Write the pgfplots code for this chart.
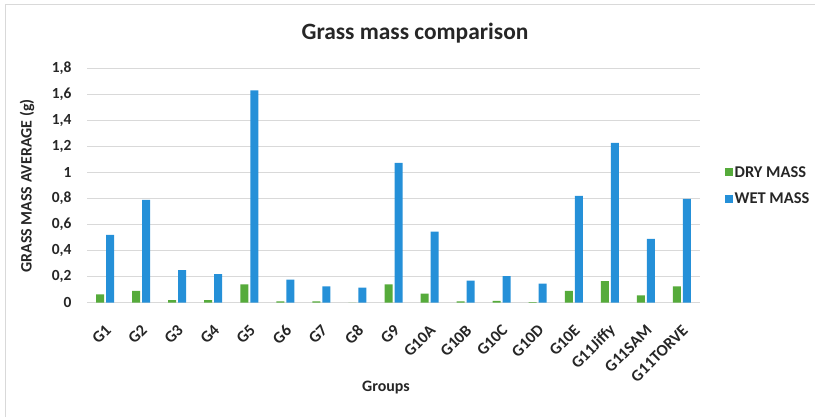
\documentclass[border=0pt]{standalone}
\usepackage{pgfplots}
\pgfplotsset{compat=1.18}
\usepackage{fontspec}
\setmainfont{Carlito}
\definecolor{drygreen}{HTML}{56AB3B}
\definecolor{wetblue}{HTML}{2590D8}
\definecolor{gridgray}{HTML}{D9D9D9}
\definecolor{txt}{HTML}{262626}

\pgfplotstableread{
idx dry   wet
0   0.064 0.52
1   0.090 0.79
2   0.020 0.25
3   0.020 0.22
4   0.140 1.63
5   0.010 0.177
6   0.010 0.126
7   0.000 0.115
8   0.140 1.073
9   0.070 0.545
10  0.010 0.170
11  0.015 0.205
12  0.005 0.146
13  0.090 0.820
14  0.165 1.227
15  0.057 0.490
16  0.126 0.797
}\grassdata

\begin{document}
\begin{tikzpicture}[x=1bp,y=1bp]
\useasboundingbox (0,0) rectangle (815,417);
% outer chart frame
\draw[gridgray,line width=1bp] (5,0) -- (5,412) -- (815,412);

\begin{axis}[
  at={(87bp,114.3bp)}, anchor=south west,
  width=613bp, height=234.4bp, scale only axis,
  ybar, bar width=8bp,
  xmin=-0.5, xmax=16.5,
  ymin=0, ymax=1.8,
  ytick={0,0.2,...,1.8},
  xtick=data,
  xticklabels={G1,G2,G3,G4,G5,G6,G7,G8,G9,G10A,G10B,G10C,G10D,G10E,G11Jiffy,G11SAM,G11TORVE},
  /pgf/number format/.cd, use comma, fixed, precision=1,
  /pgf/number format/assume math mode=true,
  /pgfplots/.cd,
  ymajorgrids, grid style={gridgray,line width=0.9bp},
  axis x line*=bottom, axis y line*=left,
  x axis line style={gridgray,line width=0.9bp,-},
  y axis line style={draw=none},
  major tick length=0pt,
  yticklabel style={font=\fontsize{15.5}{15.5}\selectfont\bfseries, text=txt, xshift=-12bp},
  xticklabel style={font=\fontsize{16.5}{16.5}\selectfont\bfseries, text=txt,
    rotate=45, anchor=east, yshift=-20bp, xshift=-12bp},
  legend style={at={(1.035,0.5)}, anchor=west, draw=none, fill=none,
    font=\fontsize{16.5}{16.5}\selectfont\bfseries, text=txt,
    row sep=10bp, legend cell align=left},
  legend image code/.code={\fill[#1] (0bp,-4bp) rectangle (8bp,4bp);},
]
\addplot[fill=drygreen, draw=none, bar shift=-5bp] table[x=idx,y=dry]{\grassdata};
\addplot[fill=wetblue, draw=none, bar shift=5bp] table[x=idx,y=wet]{\grassdata};
\legend{DRY MASS,WET MASS}
\end{axis}

\node[font=\fontsize{23.5}{23.5}\selectfont\bfseries, text=txt] at (415,384) {Grass mass comparison};
\node[font=\fontsize{16}{16}\selectfont\bfseries, text=txt, rotate=90] at (27,231) {GRASS MASS AVERAGE (g)};
\node[font=\fontsize{16}{16}\selectfont\bfseries, text=txt] at (386,29) {Groups};
\end{tikzpicture}
\end{document}
